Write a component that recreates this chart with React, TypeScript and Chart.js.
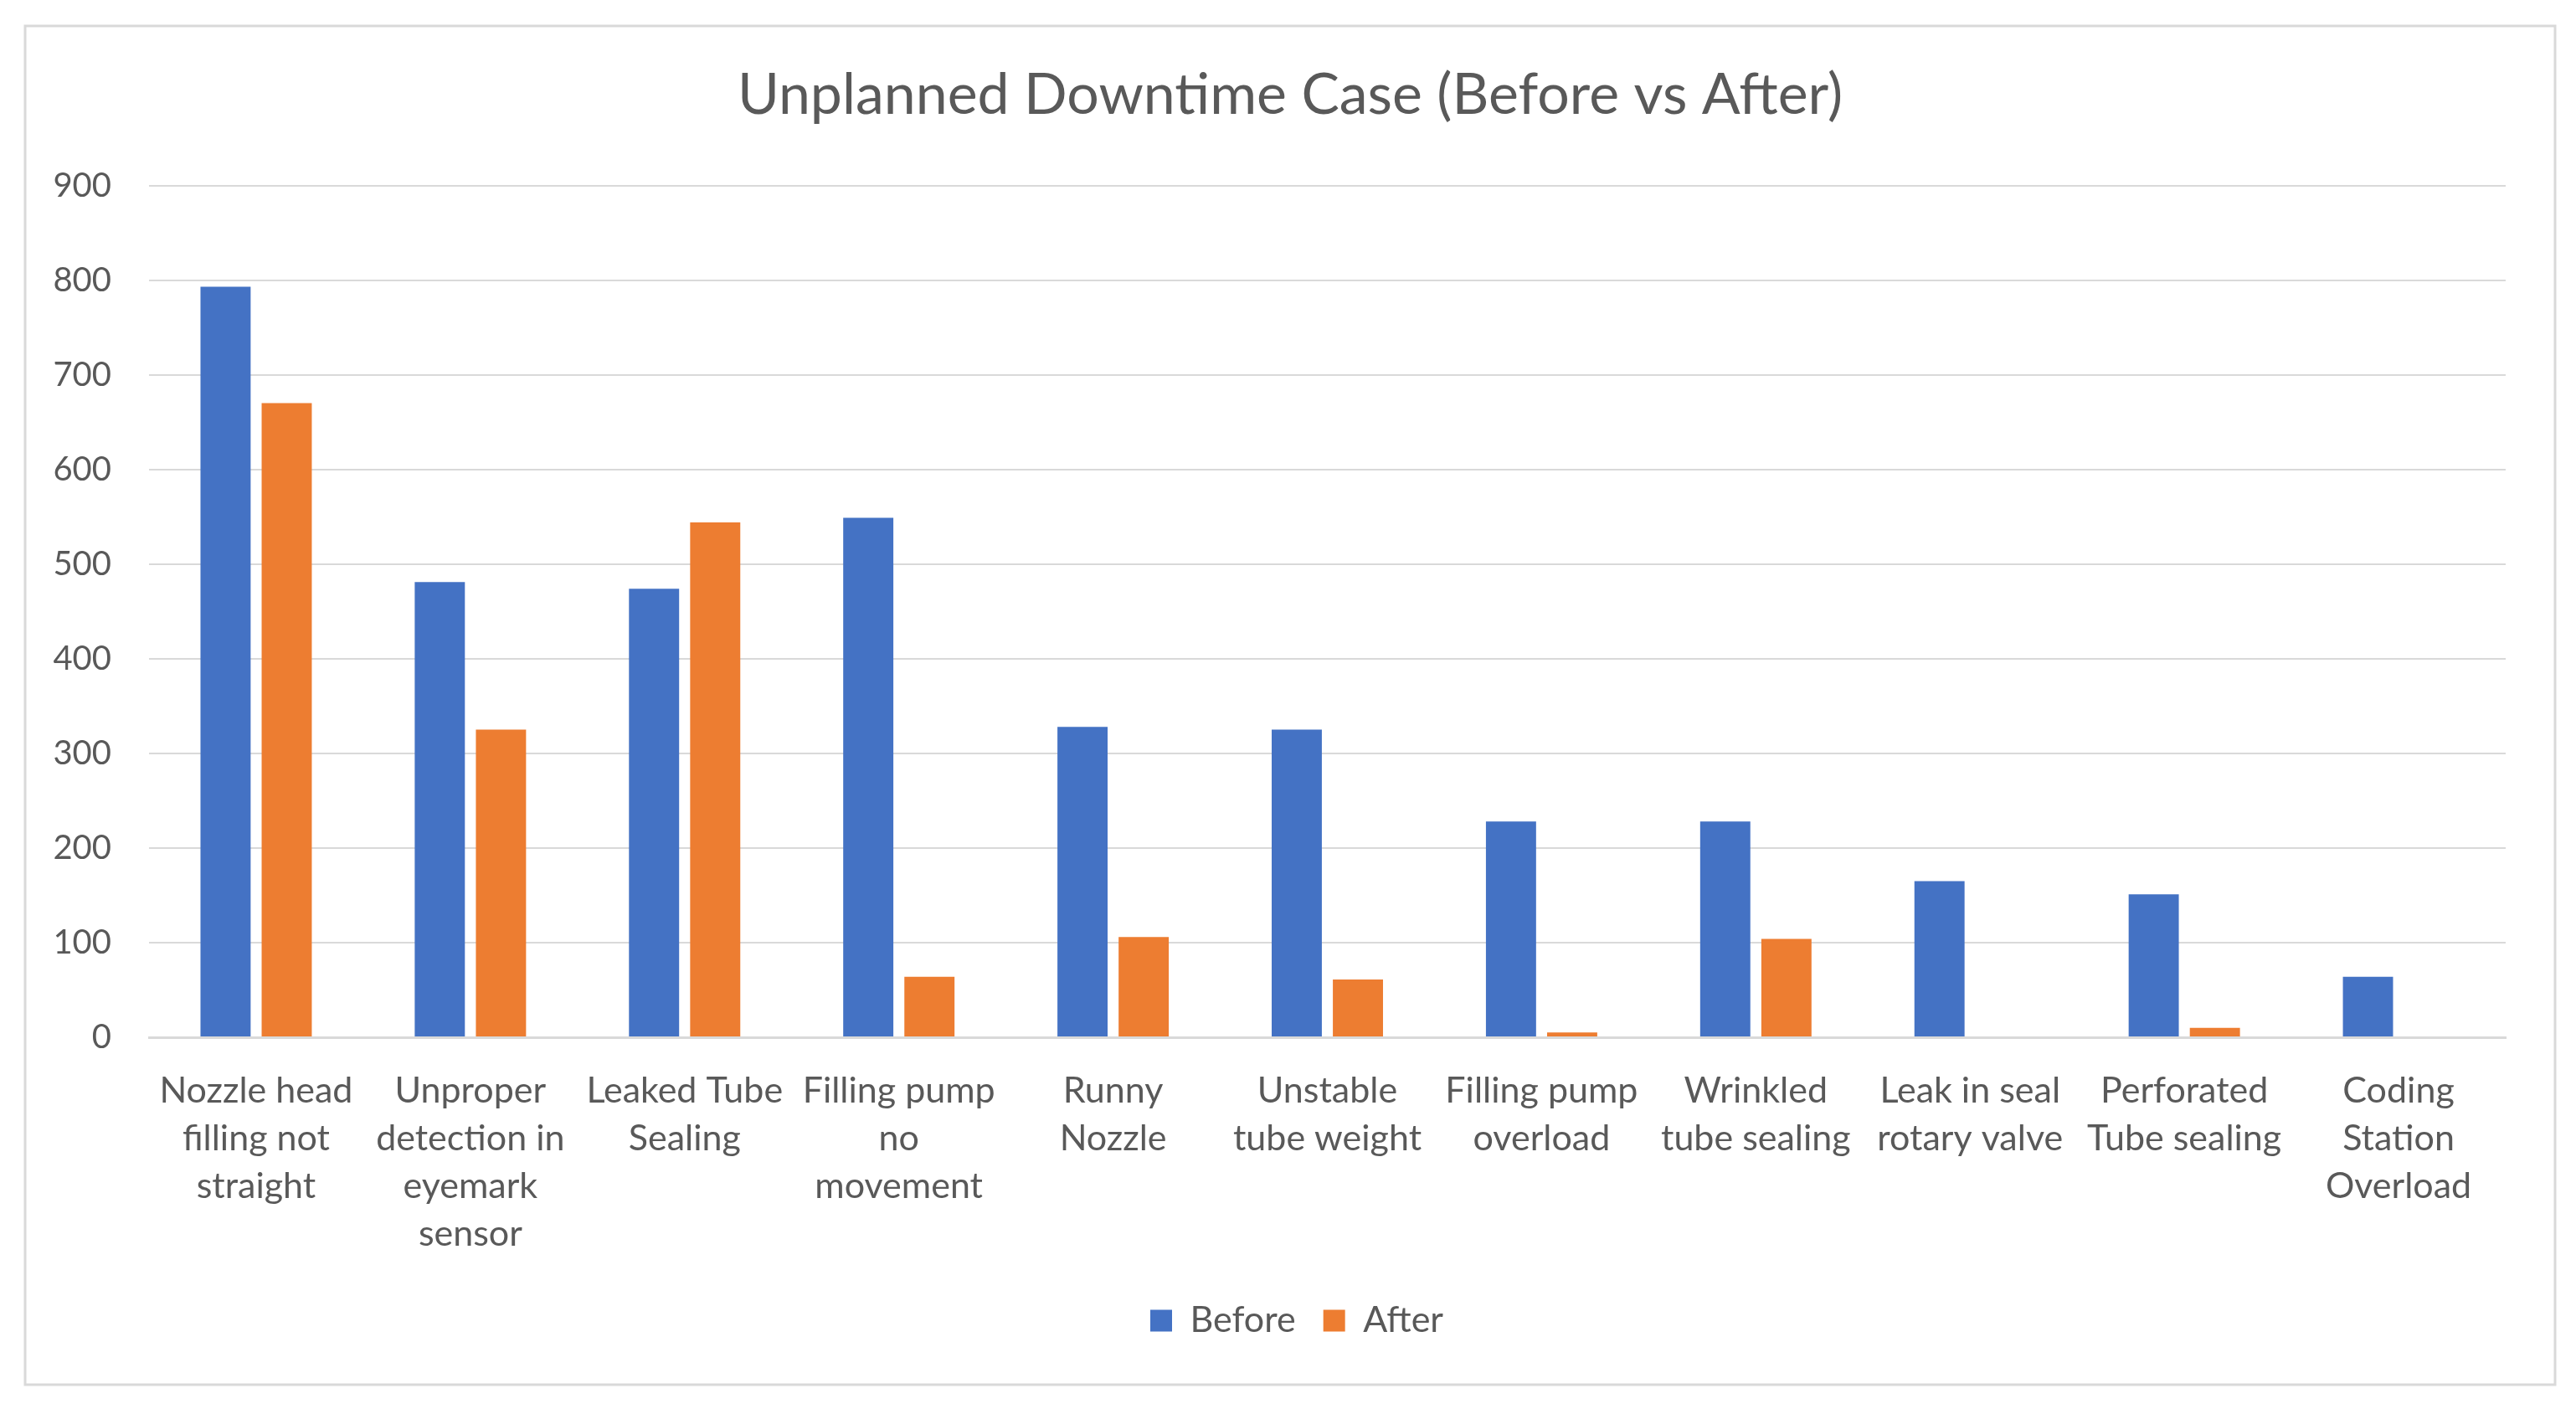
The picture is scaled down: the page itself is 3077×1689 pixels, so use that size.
import React, { useEffect, useRef } from 'react';
import { Chart, registerables } from 'chart.js';

Chart.register(...registerables);

const categories: string[][] = [
  ['Nozzle head', 'filling not', 'straight'],
  ['Unproper', 'detection in', 'eyemark', 'sensor'],
  ['Leaked Tube', 'Sealing'],
  ['Filling pump', 'no', 'movement'],
  ['Runny', 'Nozzle'],
  ['Unstable', 'tube weight'],
  ['Filling pump', 'overload'],
  ['Wrinkled', 'tube sealing'],
  ['Leak in seal', 'rotary valve'],
  ['Perforated', 'Tube sealing'],
  ['Coding', 'Station', 'Overload'],
];

const beforeValues = [793, 481, 474, 549, 328, 325, 228, 228, 165, 151, 64];
const afterValues = [670, 325, 544, 64, 106, 61, 5, 104, 0, 10, 0];

const yMin = 0;
const yMax = 900;
const yStep = 100;

const titleText = 'Unplanned Downtime Case (Before vs After)';
const seriesNames = ['Before', 'After'];

const FONT = 'Lato';
const TEXT = '#595959';
const GRID = '#D9D9D9';

const FRAME_L = 30;
const FRAME_T = 31;
const FRAME_W = 3022;
const FRAME_H = 1623;

const frame = {
  id: 'frame',
  beforeDraw(chart: any) {
    const { ctx, width, height } = chart;
    ctx.save();
    ctx.fillStyle = '#ffffff';
    ctx.fillRect(0, 0, width, height);
    ctx.strokeStyle = GRID;
    ctx.lineWidth = 3;
    ctx.strokeRect(FRAME_L, FRAME_T, FRAME_W, FRAME_H);
    ctx.restore();
  },
  afterLayout(chart: any) {
    // centre title and legend on the whole chart frame, as the original does
    const tb = chart.titleBlock;
    if (tb) {
      tb.left = FRAME_L;
      tb.right = FRAME_L + FRAME_W;
    }
    const lg = chart.legend;
    if (lg) {
      lg.left = FRAME_L + 8;
      lg.right = FRAME_L + FRAME_W + 8;
    }
  },
};

export default function App() {
  const ref = useRef<HTMLCanvasElement | null>(null);

  useEffect(() => {
    document.body.style.margin = '0';
    const canvas = ref.current;
    if (!canvas) return;
    const chart = new Chart(canvas, {
      type: 'bar',
      data: {
        labels: categories,
        datasets: [
          {
            label: seriesNames[0],
            data: beforeValues,
            backgroundColor: '#4472C4',
            borderWidth: 0,
          },
          {
            label: seriesNames[1],
            data: afterValues,
            backgroundColor: '#ED7D31',
            borderWidth: 0,
          },
        ],
      },
      options: {
        animation: false,
        responsive: false,
        devicePixelRatio: 1,
        categoryPercentage: 0.571,
        barPercentage: 0.82,
        layout: { padding: { left: 30, right: 84, top: 0, bottom: 80 } },
        plugins: {
          title: {
            display: true,
            text: titleText,
            color: TEXT,
            font: { family: FONT, size: 68, weight: 'normal', lineHeight: 1.2 },
            padding: { top: 73, bottom: 67 },
          },
          legend: {
            position: 'bottom',
            labels: {
              color: TEXT,
              font: { family: FONT, size: 43 },
              boxWidth: 26,
              boxHeight: 26,
              padding: 33,
            },
          },
          tooltip: { enabled: false },
        },
        scales: {
          x: {
            grid: { display: false, drawTicks: false },
            border: { display: true, color: GRID, width: 3 },
            ticks: {
              color: TEXT,
              font: { family: FONT, size: 43, lineHeight: 1.326 },
              padding: 36,
              maxRotation: 0,
              minRotation: 0,
              autoSkip: false,
            },
            afterFit(scale: any) {
              scale.height = 284;
            },
          },
          y: {
            min: yMin,
            max: yMax,
            grid: { color: GRID, lineWidth: 2, drawTicks: false },
            border: { display: false },
            ticks: {
              stepSize: yStep,
              color: TEXT,
              font: { family: FONT, size: 40 },
              padding: 45,
            },
            afterFit(scale: any) {
              scale.width = 148;
            },
          },
        },
      },
      plugins: [frame],
    });
    return () => chart.destroy();
  }, []);

  return <canvas ref={ref} width={3077} height={1689} style={{ display: 'block' }} />;
}
